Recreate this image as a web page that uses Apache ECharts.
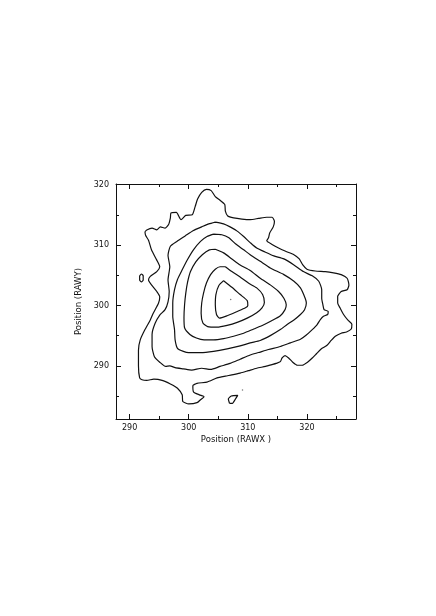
<!DOCTYPE html>
<html>
<head>
<meta charset="utf-8">
<title>Position contours</title>
<script src="https://cdn.jsdelivr.net/npm/echarts@6/dist/echarts.min.js"></script>
<style>
  html, body { margin: 0; padding: 0; background: #fff; }
  #chart { width: 436px; height: 616px; }
</style>
</head>
<body>
<div id="chart"></div>
<script>
// axis ticks (RAWX / RAWY pixel positions)
const xMajorTicks = [290, 300, 310, 320]
const xMinorTicks = [295, 305, 315, 325]
const yMajorTicks = [290, 300, 310, 320]
const yMinorTicks = [285, 295, 305, 315]

// contour levels, outermost first, each a closed [x, y] ring
const contour1 = [
  [292.6, 312.2], [292.9, 312.5], [293.8, 312.8], [294.6, 312.5], [295.2, 313.0], [296.0, 312.8],
  [296.6, 313.4], [296.9, 314.5], [297.0, 315.3], [297.9, 315.4], [298.7, 314.2], [299.5, 314.9],
  [300.6, 315.0], [301.1, 316.4], [301.5, 317.6], [302.2, 318.7], [303.0, 319.2], [303.8, 319.0],
  [304.5, 318.0], [305.3, 317.4], [306.1, 316.7], [306.2, 315.6], [306.6, 314.8], [307.6, 314.5],
  [309.0, 314.3], [310.4, 314.2], [311.8, 314.4], [313.2, 314.6], [314.1, 314.6], [314.5, 313.9],
  [314.3, 313.0], [313.7, 312.0], [313.5, 311.2], [313.2, 310.7], [314.1, 310.1], [315.2, 309.5],
  [316.3, 309.0], [317.8, 308.4], [318.7, 307.7], [319.3, 306.7], [320.0, 306.0], [321.4, 305.7],
  [323.1, 305.6], [324.5, 305.4], [325.8, 305.1], [326.8, 304.5], [327.1, 303.4], [326.8, 302.6],
  [325.8, 302.3], [325.2, 301.5], [325.2, 300.4], [325.6, 299.6], [326.2, 298.5], [326.9, 297.6],
  [327.6, 296.9], [327.5, 296.1], [326.7, 295.6], [325.8, 295.4], [324.8, 294.9], [324.1, 294.2],
  [323.4, 293.4], [322.4, 292.8], [321.6, 292.0], [320.9, 291.3], [320.1, 290.6], [319.2, 290.1],
  [318.4, 290.1], [317.6, 290.6], [316.9, 291.3], [316.3, 291.7], [315.8, 291.3], [315.5, 290.7],
  [314.8, 290.4], [314.1, 290.2], [313.0, 289.9], [311.5, 289.6], [310.1, 289.2], [308.7, 288.8],
  [307.3, 288.5], [306.2, 288.3], [304.8, 288.0], [303.1, 287.3], [301.4, 287.1], [300.7, 286.7],
  [300.8, 285.7], [301.8, 285.2], [302.6, 284.9], [302.0, 284.4], [301.4, 283.9], [300.0, 283.7],
  [299.0, 284.1], [298.9, 285.2], [298.1, 286.3], [296.9, 287.0], [295.5, 287.6], [294.1, 287.8],
  [292.9, 287.6], [292.1, 287.7], [291.7, 288.0], [291.5, 290.0], [291.5, 292.6], [291.8, 294.3],
  [292.6, 296.0], [293.5, 297.6], [294.0, 298.7], [294.9, 300.4], [295.1, 301.4], [294.6, 302.3],
  [293.7, 303.4], [293.2, 304.2], [293.5, 304.8], [294.6, 305.6], [295.1, 306.4], [294.6, 307.5],
  [293.7, 309.2], [293.2, 310.8], [292.7, 311.6]
]
const contour2 = [
  [304.5, 313.8], [305.9, 313.5], [307.0, 313.0], [308.2, 312.3], [309.3, 311.4], [310.4, 310.4],
  [311.5, 309.5], [313.0, 308.8], [314.4, 308.2], [316.1, 307.7], [317.8, 306.7], [319.4, 305.6],
  [320.9, 304.9], [322.0, 304.0], [322.5, 302.6], [322.5, 301.2], [322.7, 300.1], [322.9, 299.3],
  [323.6, 299.0], [323.5, 298.5], [322.8, 298.2], [322.3, 297.7], [321.7, 296.8], [320.9, 296.0],
  [319.9, 295.1], [318.9, 294.4], [317.2, 293.8], [315.5, 293.2], [313.5, 292.7], [311.8, 292.2],
  [310.4, 291.8], [308.7, 291.1], [307.0, 290.4], [305.3, 289.9], [303.7, 289.4], [302.2, 289.6],
  [300.5, 289.3], [299.1, 289.5], [297.7, 289.7], [296.8, 290.0], [296.1, 289.9], [295.1, 290.6],
  [294.2, 291.5], [293.8, 293.2], [293.8, 295.2], [294.3, 297.0], [295.1, 298.4], [296.0, 299.3],
  [296.5, 300.6], [296.7, 302.3], [296.5, 304.2], [296.8, 306.4], [296.5, 308.3], [296.9, 309.8],
  [298.0, 310.6], [299.4, 311.5], [300.8, 312.4], [302.2, 313.0], [303.4, 313.5]
]
const contour3 = [
  [304.2, 311.8], [305.6, 311.7], [306.8, 311.2], [307.9, 310.2], [309.3, 309.2], [310.4, 308.4],
  [312.1, 307.3], [313.8, 306.2], [316.1, 305.1], [317.8, 304.0], [318.9, 302.9], [319.7, 301.2],
  [319.9, 300.4], [319.6, 299.3], [318.9, 298.5], [317.8, 297.6], [316.6, 296.8], [315.5, 296.0],
  [313.8, 295.0], [312.1, 294.2], [310.4, 293.8], [308.7, 293.3], [306.5, 292.8], [304.2, 292.4],
  [302.0, 292.2], [300.0, 292.2], [299.1, 292.4], [298.1, 292.9], [297.7, 294.3], [297.6, 296.0],
  [297.3, 298.2], [297.3, 300.4], [297.6, 302.6], [298.1, 304.3], [298.9, 305.9], [299.8, 307.6],
  [300.8, 309.2], [302.0, 310.6], [303.1, 311.4]
]
const contour4 = [
  [304.5, 309.3], [305.9, 308.7], [307.3, 307.7], [308.7, 306.7], [310.4, 305.8], [312.1, 304.5],
  [313.8, 303.4], [315.2, 302.3], [316.1, 301.2], [316.5, 300.1], [316.3, 299.3], [315.5, 298.3],
  [314.1, 297.5], [312.7, 296.8], [311.0, 296.1], [309.3, 295.4], [307.6, 294.9], [305.9, 294.5],
  [304.2, 294.3], [302.6, 294.3], [301.3, 294.6], [300.2, 295.2], [299.3, 296.3], [299.2, 298.0],
  [299.3, 300.1], [299.5, 302.0], [299.8, 303.8], [300.3, 305.6], [301.2, 307.2], [302.3, 308.4],
  [303.5, 309.2]
]
const contour5 = [
  [306.2, 306.4], [307.3, 305.6], [308.7, 304.7], [310.1, 303.7], [311.5, 302.9], [312.5, 301.8],
  [312.8, 300.5], [312.4, 299.6], [311.5, 298.8], [309.9, 297.9], [308.2, 297.2], [306.5, 296.7],
  [304.8, 296.4], [303.2, 296.5], [302.4, 297.1], [302.1, 298.7], [302.2, 300.4], [302.5, 302.0],
  [303.0, 303.7], [303.7, 305.1], [304.5, 306.0], [305.3, 306.4]
]
const contour6 = [
  [305.9, 304.1], [307.3, 303.0], [308.7, 301.8], [309.9, 300.8], [310.0, 300.0], [309.6, 299.6],
  [308.2, 299.0], [306.5, 298.3], [305.2, 297.9], [304.7, 298.5], [304.5, 300.1], [304.6, 301.8],
  [305.1, 303.3]
]
// small isolated outer-level islands
const islandLeft = [
  [291.7, 304.9], [292.0, 305.2], [292.3, 304.9], [292.3, 304.2], [292.0, 303.9], [291.7, 304.2]
]
const islandBottom = [
  [306.9, 283.8], [306.7, 284.5], [307.2, 285.0], [308.3, 285.1], [307.9, 284.5], [307.4, 283.8]
]
const specks = [[307.1, 301.0], [309.1, 286.0]]

const rings = [contour1, contour2, contour3, contour4, contour5, contour6, islandLeft, islandBottom]

const FONT = 'DejaVu Sans'
const INK = '#111'
const X_MIN = 287.7
const X_MAX = 328.3
const Y_MIN = 281.2
const Y_MAX = 320.1

function closeRing (pts) {
  return pts.concat([pts[0]])
}

// one axis of the box: major or minor ticks, inward, labels only where asked
function boxAxis (dir, position, ticks, len, withLine, withLabels, extra) {
  const isX = dir === 'x'
  return Object.assign({
    type: 'value',
    position: position,
    min: isX ? X_MIN : Y_MIN,
    max: isX ? X_MAX : Y_MAX,
    axisLine: { show: withLine, onZero: false, lineStyle: { color: INK, width: 1 } },
    axisTick: { show: true, inside: true, length: len, customValues: ticks, lineStyle: { color: INK, width: 1 } },
    axisLabel: {
      show: withLabels,
      customValues: ticks,
      margin: isX ? 5 : 7,
      fontSize: 8,
      fontFamily: FONT,
      color: INK
    },
    splitLine: { show: false }
  }, extra || {})
}

const chart = echarts.init(document.getElementById('chart'), null, { renderer: 'canvas' })

const series = rings.map(function (ring, i) {
  return {
    name: 'level' + i,
    type: 'line',
    data: closeRing(ring),
    showSymbol: false,
    smooth: 0.2,
    silent: true,
    lineStyle: { color: INK, width: 1.2 },
    z: 3
  }
})
series.push({
  name: 'specks',
  type: 'scatter',
  data: specks,
  symbolSize: 1.5,
  itemStyle: { color: '#555' },
  silent: true
})

chart.setOption({
  animation: false,
  backgroundColor: '#fff',
  grid: { left: 116, top: 184, width: 240, height: 235 },
  xAxis: [
    boxAxis('x', 'bottom', xMajorTicks, 5, true, true, {
      name: 'Position (RAWX )',
      nameLocation: 'middle',
      nameGap: 16,
      nameTextStyle: { fontSize: 8.5, fontFamily: FONT, color: INK }
    }),
    boxAxis('x', 'bottom', xMinorTicks, 3, false, false),
    boxAxis('x', 'top', xMajorTicks, 5, true, false),
    boxAxis('x', 'top', xMinorTicks, 3, false, false)
  ],
  yAxis: [
    boxAxis('y', 'left', yMajorTicks, 5, true, true, {
      name: 'Position (RAWY)',
      nameLocation: 'middle',
      nameGap: 25,
      nameTextStyle: { fontSize: 8.5, fontFamily: FONT, color: INK }
    }),
    boxAxis('y', 'left', yMinorTicks, 3, false, false),
    boxAxis('y', 'right', yMajorTicks, 5, true, false),
    boxAxis('y', 'right', yMinorTicks, 3, false, false)
  ],
  series: series
})
</script>
</body>
</html>
